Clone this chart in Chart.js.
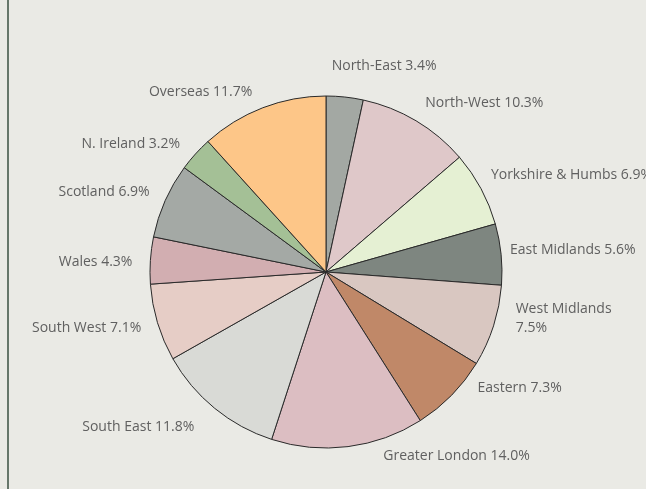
<!DOCTYPE html>
<html>
<head>
<meta charset="utf-8">
<script src="https://cdn.jsdelivr.net/npm/chart.js@4/dist/chart.umd.min.js"></script>
<style>
  html, body { margin: 0; padding: 0; background: #eaeae5; }
  #wrap { position: relative; width: 646px; height: 489px; }
</style>
</head>
<body>
<div id="wrap"><canvas id="c" width="646" height="489"></canvas></div>
<script>
// ---- data ----
const regions = ["North-East", "North-West", "Yorkshire & Humbs", "East Midlands", "West Midlands", "Eastern", "Greater London", "South East", "South West", "Wales", "Scotland", "N. Ireland", "Overseas"];
const shares = [3.4, 10.3, 6.9, 5.6, 7.5, 7.3, 14.0, 11.8, 7.1, 4.3, 6.9, 3.2, 11.7];

// ---- styles / layout ----
const sliceColors = ["#a3a8a3", "#dfc8c9", "#e5f0d3", "#7e8680", "#d9c7c1", "#c08868", "#dcbec2", "#d9dad6", "#e6cdc6", "#d2aeb1", "#a4a9a5", "#a4c096", "#fdc688"];
// label line breaks and small pixel nudges from the default anchor on each slice's mid-angle
const labelWrap = [false, false, false, false, true, false, false, false, false, false, false, false, false];
const labelNudge = [[-15,-13],[0,-2],[-6,-5],[-9,-3],[5,-13],[13,-20],[33,-8],[-9,5],[1,0],[0,3],[1,-1],[-2,2],[-4,1]];

const bgPlugin = {
  id: 'bg',
  beforeDraw(chart) {
    const ctx = chart.ctx;
    ctx.save();
    ctx.fillStyle = '#eaeae5';
    ctx.fillRect(0, 0, chart.width, chart.height);
    ctx.fillStyle = '#66766a';
    ctx.fillRect(7, 0, 2, chart.height);
    ctx.restore();
  }
};

const labelPlugin = {
  id: 'outLabels',
  afterDatasetsDraw(chart) {
    const ctx = chart.ctx;
    const meta = chart.getDatasetMeta(0);
    ctx.save();
    ctx.font = '14px "Open Sans", "Noto Sans", sans-serif';
    ctx.fillStyle = '#606060';
    ctx.textBaseline = 'middle';
    meta.data.forEach((arc, i) => {
      const p = arc.getProps(['x', 'y', 'startAngle', 'endAngle', 'outerRadius'], true);
      const mid = (p.startAngle + p.endAngle) / 2;
      const r = p.outerRadius + 18;
      const ax = p.x + Math.cos(mid) * r + labelNudge[i][0];
      const ay = p.y + Math.sin(mid) * r + labelNudge[i][1];
      ctx.textAlign = Math.cos(mid) >= 0 ? 'left' : 'right';
      const txt = regions[i] + ' ' + shares[i].toFixed(1) + '%';
      if (labelWrap[i]) {
        ctx.fillText(regions[i], ax, ay - 9);
        ctx.fillText(shares[i].toFixed(1) + '%', ax, ay + 10);
      } else {
        ctx.fillText(txt, ax, ay);
      }
    });
    ctx.restore();
  }
};

new Chart(document.getElementById('c'), {
  type: 'pie',
  data: {
    labels: regions,
    datasets: [{
      data: shares,
      backgroundColor: sliceColors,
      borderColor: '#2a2a2a',
      borderWidth: 1,
      radius: 176
    }]
  },
  options: {
    responsive: false,
    animation: false,
    layout: { padding: { left: 6, right: 0, top: 55, bottom: 0 } },
    plugins: {
      legend: { display: false },
      tooltip: { enabled: false },
      title: { display: false }
    }
  },
  plugins: [bgPlugin, labelPlugin]
});
</script>
</body>
</html>
